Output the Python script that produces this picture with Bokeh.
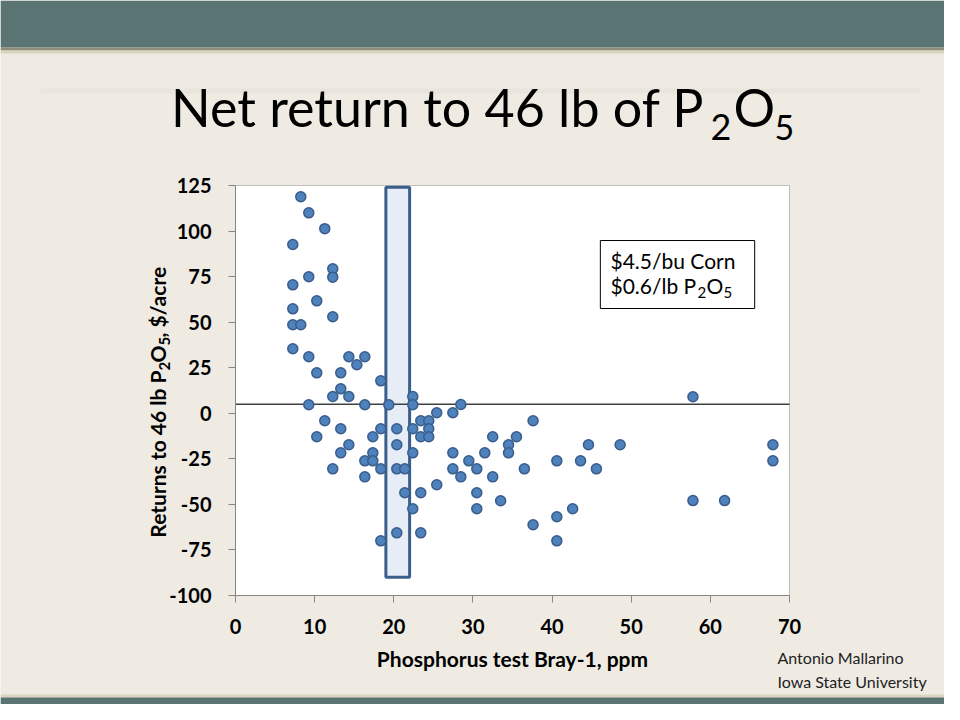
import numpy as np
from bokeh.plotting import figure
from bokeh.models import Label, BoxAnnotation, Range1d, FixedTicker, ColumnDataSource
from bokeh.embed import file_html
from bokeh.resources import INLINE

# ---------------- data ----------------
bray_ppm = [8.25, 9.26, 11.28, 7.24, 12.29, 12.29, 9.26, 7.24, 10.27, 7.24,
            12.29, 7.24, 8.25, 7.24, 9.26, 14.32, 16.34, 15.33, 10.27, 13.3,
            18.36, 13.3, 12.29, 14.32, 22.4, 9.26, 16.34, 19.37, 22.4, 11.28,
            13.3, 18.36, 20.38, 22.4, 23.41, 24.42, 24.42, 10.27, 17.35, 23.41,
            24.42, 14.32, 20.38, 13.3, 17.35, 22.4, 16.34, 17.35, 12.29, 18.36,
            20.38, 21.39, 16.34, 21.39, 23.41, 22.4, 20.38, 23.41, 18.36, 28.47,
            25.43, 27.46, 37.6, 32.5, 35.5, 34.5, 44.6, 48.6, 27.46, 31.5,
            34.5, 29.48, 40.6, 43.6, 27.46, 30.49, 36.5, 45.6, 28.47, 32.5,
            25.43, 30.49, 33.5, 30.49, 42.6, 40.6, 37.6, 40.6, 57.8, 57.8,
            61.8, 67.9, 67.9]
net_return = [118.8, 110.0, 101.3, 92.6, 79.3, 74.7, 74.9, 70.5, 61.7, 57.3,
              53.0, 48.6, 48.6, 35.4, 31.0, 31.0, 31.0, 26.6, 22.2, 22.2,
              17.8, 13.4, 9.2, 9.2, 9.2, 4.7, 4.7, 4.7, 4.7, -4.1,
              -8.5, -8.5, -8.5, -8.5, -4.1, -4.1, -8.5, -12.9, -12.9, -12.9,
              -12.9, -17.3, -17.3, -21.7, -21.7, -21.7, -26.1, -26.1, -30.5, -30.5,
              -30.5, -30.5, -34.9, -43.6, -43.6, -52.4, -65.6, -65.6, -70.0, 4.8,
              0.3, 0.3, -4.1, -12.9, -12.9, -17.3, -17.3, -17.3, -21.7, -21.7,
              -21.7, -26.1, -26.1, -26.1, -30.5, -30.5, -30.5, -30.5, -34.9, -34.9,
              -39.2, -43.6, -48.0, -52.4, -52.4, -56.8, -61.2, -70.0, 9.1, -47.9,
              -47.9, -17.3, -26.1]
x_ticks = [0, 10, 20, 30, 40, 50, 60, 70]
y_ticks = [-100, -75, -50, -25, 0, 25, 50, 75, 100, 125]
critical_range = [19, 22]          # ppm band highlighted
critical_box_y = [-90, 124]
break_even = 5                     # horizontal reference line
legend_box_x = [46.1, 65.6]
legend_box_y = [57.5, 94.8]

title_main = "Net return to 46 lb of P"
ylab_main = "Returns to 46 lb P"
ylab_tail = ", $/acre"
x_label = "Phosphorus test Bray-1, ppm"
note1 = "$4.5/bu Corn"
note2 = "$0.6/lb P"
credit1 = "Antonio Mallarino"
credit2 = "Iowa State University"

# ---------------- geometry (pixels of the slide) ----------------
W, H = 944, 704
FL, FR, FT, FB = 235, 789, 185, 595      # chart area edges
X0, X1 = x_ticks[0], x_ticks[-1]
Y0, Y1 = y_ticks[0], y_ticks[-1]
kx = (FR - FL) / (X1 - X0)
ky = (FB - FT) / (Y1 - Y0)
BASE_FIX = 0.4                           # label anchor -> visual baseline

BG = "#efebe3"
TEAL = "#5a7474"
FONT = "Lato"

p = figure(width=W, height=H, min_border=0, title=None,
           x_range=Range1d(X0 - FL / kx, X1 + (W - FR) / kx),
           y_range=Range1d(Y0 - (H - FB) / ky, Y1 + FT / ky),
           output_backend="svg", toolbar_location=None)
p.border_fill_color = BG
p.background_fill_color = BG
p.outline_line_color = None
p.xgrid.grid_line_color = None
p.ygrid.grid_line_color = None


def box_px(x0, x1, y0, y1, color):
    p.add_layout(BoxAnnotation(left=x0, right=x1, top=H - y0, bottom=H - y1,
                               left_units="screen", right_units="screen",
                               top_units="screen", bottom_units="screen",
                               fill_color=color, fill_alpha=1.0, line_color=None,
                               level="underlay"))


def lab(x, y, text, size, style="normal", align="left", rotated=False, color="#000000"):
    if rotated:
        x, ang = x - BASE_FIX * size, np.pi / 2
    else:
        y, ang = y - BASE_FIX * size, 0.0
    p.add_layout(Label(x=x, y=H - y, x_units="screen", y_units="screen", text=text,
                       text_font=FONT, text_font_size=f"{size}px", text_font_style=style,
                       text_align=align, text_baseline="alphabetic", angle=ang,
                       text_color=color))


# slide decoration
box_px(0, W, 0, 47, TEAL)
box_px(0, W, 47, 50, "#8e8d78")
box_px(0, W, 50, 53, "#d9d3bf")
box_px(40, 920, 88, 93, "#e9e5dc")
box_px(0, W, 694, 697, "#d9d3bf")
box_px(0, W, 697, H, TEAL)

# chart area
p.add_layout(BoxAnnotation(left=X0, right=X1, bottom=Y0, top=Y1,
                           fill_color="#ffffff", fill_alpha=1.0,
                           line_color="#404040", line_width=1, level="underlay"))

# axes drawn at the chart area edges
p.xaxis.fixed_location = Y0
p.yaxis.fixed_location = X0
p.xaxis.bounds = (X0, X1)
p.yaxis.bounds = (Y0, Y1)
for ax in (p.xaxis[0], p.yaxis[0]):
    ax.axis_line_color = "#868686"
    ax.major_tick_line_color = "#868686"
    ax.major_tick_out = 7
    ax.major_tick_in = 0
    ax.minor_tick_line_color = None
    ax.major_label_text_font = FONT
    ax.major_label_text_font_style = "bold"
    ax.major_label_text_font_size = "20px"
    ax.major_label_text_color = "#000000"
p.xaxis.ticker = FixedTicker(ticks=x_ticks)
p.yaxis.ticker = FixedTicker(ticks=y_ticks)
p.xaxis.major_label_overrides = {t: str(t) for t in x_ticks}
p.yaxis.major_label_overrides = {t: str(t) for t in y_ticks}
p.xaxis.major_label_standoff = 16
p.yaxis.major_label_standoff = 17
p.xaxis.axis_label = x_label
p.xaxis.axis_label_text_font = FONT
p.xaxis.axis_label_text_font_style = "bold"
p.xaxis.axis_label_text_font_size = "21px"
p.xaxis.axis_label_text_color = "#000000"
p.xaxis.axis_label_standoff = 9

# data marks
p.quad(left=[critical_range[0]], right=[critical_range[1]],
       bottom=[critical_box_y[0]], top=[critical_box_y[1]],
       fill_color="#e6edf7", line_color="#3b5f8c", line_width=3)
p.segment(x0=[X0], x1=[X1], y0=[break_even], y1=[break_even],
          line_color="#404040", line_width=1.5)
src = ColumnDataSource(dict(x=bray_ppm, y=net_return))
p.scatter("x", "y", source=src, size=10, fill_color="#4f81bd",
          line_color="#385d8a", line_width=1.5)

# price note box
p.quad(left=[legend_box_x[0]], right=[legend_box_x[1]],
       bottom=[legend_box_y[0]], top=[legend_box_y[1]],
       fill_color="#ffffff", line_color="#000000", line_width=1)

# title with subscripts
lab(704, 127, title_main, 52, align="right")
lab(710, 141, "2", 36)
lab(733, 127, "O", 52)
lab(774, 141, "5", 34)

# y axis label (rotated) with subscripts
lab(165, 370, ylab_main, 21, "bold", align="right", rotated=True)
lab(170, 370, "2", 15, "bold", rotated=True)
lab(165, 362, "O", 21, "bold", rotated=True)
lab(170, 345, "5", 15, "bold", rotated=True)
lab(165, 337, ylab_tail, 21, "bold", rotated=True)

# note text
lab(610, 268, note1, 21)
lab(610, 293, note2, 21)
lab(697, 298, "2", 15)
lab(706, 293, "O", 21)
lab(723, 298, "5", 15)

# credit
lab(777, 663, credit1, 16, color="#222222")
lab(777, 687, credit2, 16, color="#222222")

open("out.html", "w").write(file_html(p, INLINE))
